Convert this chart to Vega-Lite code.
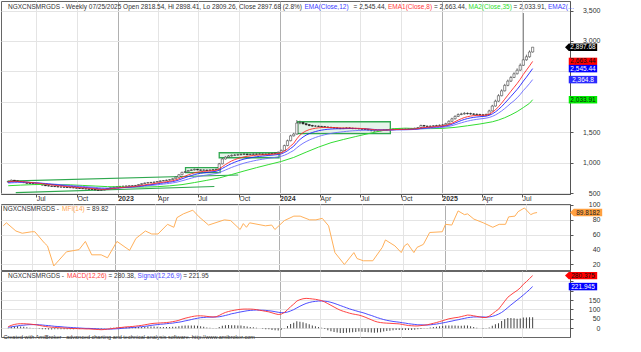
{
"$schema":"https://vega.github.io/schema/vega-lite/v6.json",
"background":"white",
"padding":0,
"spacing":-2,
"config":{"font":"Liberation Sans","view":{"stroke":"#666","strokeWidth":1},"axis":{"labelFont":"Liberation Sans","gridColor":"#e4e4e4","domainColor":"#555","tickColor":"#555","labelColor":"#333","title":null}},
"title":{"text":"Created with AmiBroker - advanced charting and technical analysis software. http://www.amibroker.com","orient":"bottom","anchor":"start","fontSize":5.5,"fontWeight":"normal","color":"#333","offset":-2.5,"dx":3,"font":"Liberation Sans"},
"datasets":{
"w":[
{"d":"2022-04-29","o":680,"h":700,"l":672,"c":690,"e8":686,"e12":677,"e20":663,"m":8,"s":5,"hs":3},
{"d":"2022-05-06","o":690,"h":722,"l":685,"c":710,"e8":691,"e12":682,"e20":667,"m":15,"s":7,"hs":8},
{"d":"2022-05-13","o":710,"h":715,"l":694,"c":700,"e8":693,"e12":685,"e20":670,"m":20,"s":10,"hs":10},
{"d":"2022-05-20","o":700,"h":706,"l":684,"c":690,"e8":692,"e12":686,"e20":672,"m":23,"s":12,"hs":11},
{"d":"2022-05-27","o":690,"h":695,"l":674,"c":680,"e8":689,"e12":685,"e20":673,"m":24,"s":15,"hs":9},
{"d":"2022-06-03","o":680,"h":686,"l":664,"c":670,"e8":685,"e12":683,"e20":673,"m":24,"s":16,"hs":8},
{"d":"2022-06-10","o":670,"h":676,"l":655,"c":660,"e8":679,"e12":679,"e20":672,"m":23,"s":18,"hs":5},
{"d":"2022-06-17","o":660,"h":665,"l":649,"c":655,"e8":674,"e12":675,"e20":670,"m":22,"s":19,"hs":3},
{"d":"2022-06-24","o":655,"h":660,"l":644,"c":650,"e8":669,"e12":671,"e20":668,"m":20,"s":19,"hs":1},
{"d":"2022-07-01","o":650,"h":656,"l":640,"c":645,"e8":664,"e12":667,"e20":666,"m":18,"s":19,"hs":-1},
{"d":"2022-07-08","o":645,"h":650,"l":634,"c":640,"e8":659,"e12":663,"e20":664,"m":15,"s":18,"hs":-3},
{"d":"2022-07-15","o":640,"h":645,"l":625,"c":630,"e8":653,"e12":658,"e20":661,"m":12,"s":17,"hs":-5},
{"d":"2022-07-22","o":630,"h":635,"l":615,"c":620,"e8":646,"e12":652,"e20":657,"m":9,"s":15,"hs":-6},
{"d":"2022-07-29","o":620,"h":626,"l":610,"c":615,"e8":639,"e12":646,"e20":653,"m":7,"s":14,"hs":-7},
{"d":"2022-08-05","o":615,"h":620,"l":604,"c":610,"e8":633,"e12":641,"e20":649,"m":5,"s":12,"hs":-7},
{"d":"2022-08-12","o":610,"h":615,"l":600,"c":605,"e8":627,"e12":635,"e20":645,"m":4,"s":10,"hs":-6},
{"d":"2022-08-19","o":605,"h":610,"l":594,"c":600,"e8":621,"e12":630,"e20":641,"m":3,"s":9,"hs":-6},
{"d":"2022-08-26","o":600,"h":606,"l":592,"c":598,"e8":616,"e12":625,"e20":637,"m":2,"s":8,"hs":-6},
{"d":"2022-09-02","o":598,"h":603,"l":590,"c":595,"e8":611,"e12":620,"e20":633,"m":1,"s":6,"hs":-5},
{"d":"2022-09-09","o":595,"h":600,"l":585,"c":590,"e8":606,"e12":615,"e20":629,"m":0,"s":5,"hs":-5},
{"d":"2022-09-16","o":590,"h":596,"l":582,"c":588,"e8":602,"e12":611,"e20":625,"m":-1,"s":4,"hs":-5},
{"d":"2022-09-23","o":588,"h":593,"l":580,"c":585,"e8":598,"e12":607,"e20":621,"m":-2,"s":3,"hs":-5},
{"d":"2022-09-30","o":585,"h":590,"l":575,"c":580,"e8":594,"e12":603,"e20":617,"m":-2,"s":2,"hs":-4},
{"d":"2022-10-07","o":580,"h":585,"l":570,"c":575,"e8":590,"e12":599,"e20":613,"m":-3,"s":1,"hs":-4},
{"d":"2022-10-14","o":575,"h":580,"l":565,"c":570,"e8":586,"e12":594,"e20":609,"m":-3,"s":0,"hs":-3},
{"d":"2022-10-21","o":570,"h":576,"l":561,"c":566,"e8":582,"e12":590,"e20":605,"m":-4,"s":-1,"hs":-3},
{"d":"2022-10-28","o":566,"h":571,"l":557,"c":562,"e8":578,"e12":586,"e20":601,"m":-4,"s":-1,"hs":-3},
{"d":"2022-11-04","o":562,"h":567,"l":553,"c":558,"e8":574,"e12":582,"e20":597,"m":-5,"s":-2,"hs":-3},
{"d":"2022-11-11","o":558,"h":563,"l":544,"c":550,"e8":569,"e12":577,"e20":593,"m":-6,"s":-3,"hs":-3},
{"d":"2022-11-18","o":550,"h":556,"l":538,"c":545,"e8":564,"e12":572,"e20":588,"m":-7,"s":-4,"hs":-3},
{"d":"2022-11-25","o":545,"h":555,"l":540,"c":548,"e8":560,"e12":568,"e20":584,"m":-8,"s":-5,"hs":-3},
{"d":"2022-12-02","o":548,"h":566,"l":544,"c":560,"e8":560,"e12":567,"e20":582,"m":-7,"s":-5,"hs":-2},
{"d":"2022-12-09","o":560,"h":581,"l":555,"c":575,"e8":563,"e12":568,"e20":581,"m":-5,"s":-5,"hs":0},
{"d":"2022-12-16","o":575,"h":596,"l":570,"c":590,"e8":569,"e12":571,"e20":582,"m":-3,"s":-5,"hs":2},
{"d":"2022-12-23","o":590,"h":607,"l":585,"c":600,"e8":576,"e12":576,"e20":584,"m":-1,"s":-4,"hs":3},
{"d":"2022-12-30","o":600,"h":612,"l":596,"c":605,"e8":582,"e12":580,"e20":586,"m":1,"s":-3,"hs":4},
{"d":"2023-01-06","o":605,"h":616,"l":600,"c":610,"e8":588,"e12":585,"e20":588,"m":3,"s":-2,"hs":5},
{"d":"2023-01-13","o":610,"h":618,"l":605,"c":612,"e8":593,"e12":589,"e20":590,"m":5,"s":0,"hs":5},
{"d":"2023-01-20","o":612,"h":620,"l":607,"c":615,"e8":598,"e12":593,"e20":592,"m":7,"s":1,"hs":6},
{"d":"2023-01-27","o":615,"h":624,"l":610,"c":618,"e8":602,"e12":597,"e20":595,"m":8,"s":2,"hs":6},
{"d":"2023-02-03","o":618,"h":626,"l":612,"c":620,"e8":606,"e12":601,"e20":597,"m":9,"s":4,"hs":5},
{"d":"2023-02-10","o":620,"h":632,"l":615,"c":625,"e8":610,"e12":605,"e20":600,"m":11,"s":5,"hs":6},
{"d":"2023-02-17","o":625,"h":646,"l":620,"c":640,"e8":617,"e12":610,"e20":604,"m":13,"s":7,"hs":6},
{"d":"2023-02-24","o":640,"h":662,"l":635,"c":655,"e8":625,"e12":617,"e20":609,"m":15,"s":8,"hs":7},
{"d":"2023-03-03","o":655,"h":672,"l":650,"c":665,"e8":634,"e12":624,"e20":614,"m":18,"s":10,"hs":8},
{"d":"2023-03-10","o":665,"h":678,"l":660,"c":670,"e8":642,"e12":631,"e20":619,"m":21,"s":12,"hs":9},
{"d":"2023-03-17","o":670,"h":682,"l":665,"c":675,"e8":649,"e12":638,"e20":624,"m":24,"s":15,"hs":9},
{"d":"2023-03-24","o":675,"h":688,"l":670,"c":680,"e8":656,"e12":644,"e20":629,"m":26,"s":17,"hs":9},
{"d":"2023-03-31","o":680,"h":697,"l":675,"c":690,"e8":664,"e12":651,"e20":635,"m":27,"s":19,"hs":8},
{"d":"2023-04-07","o":690,"h":708,"l":685,"c":700,"e8":672,"e12":659,"e20":641,"m":28,"s":21,"hs":7},
{"d":"2023-04-14","o":700,"h":712,"l":695,"c":705,"e8":679,"e12":666,"e20":647,"m":29,"s":22,"hs":7},
{"d":"2023-04-21","o":705,"h":720,"l":700,"c":712,"e8":686,"e12":673,"e20":653,"m":30,"s":24,"hs":6},
{"d":"2023-04-28","o":712,"h":728,"l":706,"c":720,"e8":694,"e12":680,"e20":659,"m":32,"s":26,"hs":6},
{"d":"2023-05-05","o":720,"h":742,"l":714,"c":735,"e8":703,"e12":688,"e20":666,"m":35,"s":27,"hs":8},
{"d":"2023-05-12","o":735,"h":768,"l":730,"c":760,"e8":716,"e12":699,"e20":675,"m":38,"s":30,"hs":8},
{"d":"2023-05-19","o":760,"h":810,"l":755,"c":800,"e8":735,"e12":715,"e20":687,"m":42,"s":32,"hs":10},
{"d":"2023-05-26","o":800,"h":850,"l":795,"c":840,"e8":758,"e12":734,"e20":701,"m":48,"s":35,"hs":13},
{"d":"2023-06-02","o":840,"h":862,"l":832,"c":850,"e8":778,"e12":752,"e20":715,"m":53,"s":39,"hs":14},
{"d":"2023-06-09","o":850,"h":880,"l":845,"c":870,"e8":798,"e12":770,"e20":730,"m":57,"s":42,"hs":15},
{"d":"2023-06-16","o":870,"h":892,"l":862,"c":880,"e8":816,"e12":787,"e20":744,"m":61,"s":46,"hs":15},
{"d":"2023-06-23","o":880,"h":902,"l":872,"c":890,"e8":832,"e12":803,"e20":758,"m":64,"s":50,"hs":14},
{"d":"2023-06-30","o":890,"h":898,"l":872,"c":880,"e8":843,"e12":815,"e20":770,"m":66,"s":53,"hs":13},
{"d":"2023-07-07","o":880,"h":888,"l":866,"c":875,"e8":850,"e12":824,"e20":780,"m":66,"s":56,"hs":10},
{"d":"2023-07-14","o":875,"h":888,"l":866,"c":878,"e8":856,"e12":832,"e20":789,"m":65,"s":57,"hs":8},
{"d":"2023-07-21","o":878,"h":885,"l":860,"c":870,"e8":859,"e12":838,"e20":797,"m":63,"s":59,"hs":4},
{"d":"2023-07-28","o":870,"h":890,"l":862,"c":880,"e8":864,"e12":845,"e20":805,"m":61,"s":59,"hs":2},
{"d":"2023-08-04","o":880,"h":895,"l":872,"c":885,"e8":869,"e12":851,"e20":813,"m":60,"s":59,"hs":1},
{"d":"2023-08-11","o":885,"h":900,"l":876,"c":890,"e8":874,"e12":857,"e20":820,"m":61,"s":60,"hs":1},
{"d":"2023-08-18","o":890,"h":995,"l":885,"c":980,"e8":897,"e12":876,"e20":835,"m":68,"s":61,"hs":7},
{"d":"2023-08-25","o":980,"h":1075,"l":972,"c":1060,"e8":933,"e12":904,"e20":856,"m":77,"s":64,"hs":13},
{"d":"2023-09-01","o":1060,"h":1105,"l":1050,"c":1090,"e8":968,"e12":933,"e20":878,"m":84,"s":68,"hs":16},
{"d":"2023-09-08","o":1090,"h":1125,"l":1080,"c":1110,"e8":1000,"e12":960,"e20":900,"m":89,"s":72,"hs":17},
{"d":"2023-09-15","o":1110,"h":1135,"l":1100,"c":1120,"e8":1027,"e12":985,"e20":921,"m":93,"s":77,"hs":16},
{"d":"2023-09-22","o":1120,"h":1140,"l":1110,"c":1125,"e8":1049,"e12":1007,"e20":940,"m":96,"s":80,"hs":16},
{"d":"2023-09-29","o":1125,"h":1145,"l":1115,"c":1130,"e8":1067,"e12":1026,"e20":958,"m":99,"s":84,"hs":15},
{"d":"2023-10-06","o":1130,"h":1150,"l":1120,"c":1135,"e8":1082,"e12":1043,"e20":975,"m":101,"s":87,"hs":14},
{"d":"2023-10-13","o":1135,"h":1155,"l":1125,"c":1140,"e8":1095,"e12":1058,"e20":991,"m":102,"s":90,"hs":12},
{"d":"2023-10-20","o":1140,"h":1150,"l":1120,"c":1130,"e8":1103,"e12":1069,"e20":1004,"m":102,"s":93,"hs":9},
{"d":"2023-10-27","o":1130,"h":1148,"l":1122,"c":1135,"e8":1110,"e12":1079,"e20":1016,"m":102,"s":95,"hs":7},
{"d":"2023-11-03","o":1135,"h":1152,"l":1126,"c":1140,"e8":1117,"e12":1088,"e20":1028,"m":101,"s":96,"hs":5},
{"d":"2023-11-10","o":1140,"h":1150,"l":1128,"c":1138,"e8":1122,"e12":1096,"e20":1038,"m":99,"s":97,"hs":3},
{"d":"2023-11-17","o":1138,"h":1154,"l":1128,"c":1142,"e8":1126,"e12":1103,"e20":1048,"m":96,"s":96,"hs":0},
{"d":"2023-11-24","o":1142,"h":1150,"l":1126,"c":1135,"e8":1128,"e12":1108,"e20":1056,"m":93,"s":96,"hs":-3},
{"d":"2023-12-01","o":1135,"h":1152,"l":1126,"c":1140,"e8":1131,"e12":1113,"e20":1064,"m":90,"s":95,"hs":-5},
{"d":"2023-12-08","o":1140,"h":1156,"l":1130,"c":1145,"e8":1134,"e12":1118,"e20":1072,"m":87,"s":93,"hs":-6},
{"d":"2023-12-15","o":1145,"h":1162,"l":1136,"c":1150,"e8":1138,"e12":1123,"e20":1079,"m":82,"s":91,"hs":-9},
{"d":"2023-12-22","o":1150,"h":1166,"l":1140,"c":1155,"e8":1142,"e12":1128,"e20":1086,"m":77,"s":88,"hs":-11},
{"d":"2023-12-29","o":1155,"h":1182,"l":1146,"c":1170,"e8":1148,"e12":1134,"e20":1094,"m":73,"s":85,"hs":-12},
{"d":"2024-01-05","o":1170,"h":1215,"l":1162,"c":1200,"e8":1160,"e12":1144,"e20":1104,"m":75,"s":83,"hs":-8},
{"d":"2024-01-12","o":1200,"h":1295,"l":1192,"c":1280,"e8":1187,"e12":1165,"e20":1121,"m":84,"s":83,"hs":1},
{"d":"2024-01-19","o":1280,"h":1378,"l":1270,"c":1360,"e8":1225,"e12":1195,"e20":1144,"m":98,"s":86,"hs":12},
{"d":"2024-01-26","o":1360,"h":1458,"l":1350,"c":1440,"e8":1273,"e12":1233,"e20":1172,"m":115,"s":92,"hs":23},
{"d":"2024-02-02","o":1440,"h":1490,"l":1430,"c":1470,"e8":1317,"e12":1270,"e20":1200,"m":128,"s":99,"hs":29},
{"d":"2024-02-09","o":1470,"h":1700,"l":1460,"c":1650,"e8":1391,"e12":1329,"e20":1243,"m":145,"s":108,"hs":37},
{"d":"2024-02-16","o":1650,"h":1690,"l":1630,"c":1660,"e8":1451,"e12":1380,"e20":1283,"m":152,"s":117,"hs":35},
{"d":"2024-02-23","o":1660,"h":1672,"l":1625,"c":1640,"e8":1493,"e12":1420,"e20":1317,"m":157,"s":125,"hs":32},
{"d":"2024-03-01","o":1640,"h":1650,"l":1610,"c":1625,"e8":1522,"e12":1452,"e20":1346,"m":159,"s":132,"hs":27},
{"d":"2024-03-08","o":1625,"h":1635,"l":1598,"c":1610,"e8":1542,"e12":1476,"e20":1371,"m":158,"s":137,"hs":21},
{"d":"2024-03-15","o":1610,"h":1622,"l":1590,"c":1600,"e8":1555,"e12":1495,"e20":1393,"m":156,"s":141,"hs":15},
{"d":"2024-03-22","o":1600,"h":1615,"l":1588,"c":1600,"e8":1565,"e12":1511,"e20":1413,"m":154,"s":143,"hs":11},
{"d":"2024-03-29","o":1600,"h":1610,"l":1585,"c":1595,"e8":1572,"e12":1524,"e20":1430,"m":151,"s":145,"hs":6},
{"d":"2024-04-05","o":1595,"h":1605,"l":1580,"c":1590,"e8":1576,"e12":1534,"e20":1445,"m":147,"s":145,"hs":2},
{"d":"2024-04-12","o":1590,"h":1600,"l":1575,"c":1585,"e8":1578,"e12":1542,"e20":1458,"m":140,"s":144,"hs":-4},
{"d":"2024-04-19","o":1585,"h":1595,"l":1570,"c":1580,"e8":1578,"e12":1548,"e20":1470,"m":131,"s":142,"hs":-11},
{"d":"2024-04-26","o":1580,"h":1590,"l":1565,"c":1575,"e8":1577,"e12":1552,"e20":1480,"m":122,"s":138,"hs":-16},
{"d":"2024-05-03","o":1575,"h":1585,"l":1560,"c":1570,"e8":1575,"e12":1555,"e20":1489,"m":113,"s":133,"hs":-20},
{"d":"2024-05-10","o":1570,"h":1580,"l":1556,"c":1565,"e8":1573,"e12":1557,"e20":1496,"m":104,"s":127,"hs":-23},
{"d":"2024-05-17","o":1565,"h":1575,"l":1550,"c":1560,"e8":1570,"e12":1557,"e20":1502,"m":96,"s":121,"hs":-25},
{"d":"2024-05-24","o":1560,"h":1576,"l":1552,"c":1565,"e8":1569,"e12":1558,"e20":1508,"m":90,"s":115,"hs":-25},
{"d":"2024-05-31","o":1565,"h":1582,"l":1556,"c":1570,"e8":1569,"e12":1560,"e20":1514,"m":85,"s":109,"hs":-24},
{"d":"2024-06-07","o":1570,"h":1580,"l":1555,"c":1565,"e8":1568,"e12":1561,"e20":1519,"m":80,"s":103,"hs":-23},
{"d":"2024-06-14","o":1565,"h":1575,"l":1550,"c":1560,"e8":1566,"e12":1561,"e20":1523,"m":76,"s":98,"hs":-22},
{"d":"2024-06-21","o":1560,"h":1572,"l":1550,"c":1560,"e8":1565,"e12":1561,"e20":1526,"m":73,"s":93,"hs":-20},
{"d":"2024-06-28","o":1560,"h":1570,"l":1545,"c":1555,"e8":1563,"e12":1560,"e20":1529,"m":70,"s":88,"hs":-18},
{"d":"2024-07-05","o":1555,"h":1565,"l":1540,"c":1550,"e8":1560,"e12":1558,"e20":1531,"m":65,"s":84,"hs":-19},
{"d":"2024-07-12","o":1550,"h":1560,"l":1535,"c":1545,"e8":1557,"e12":1556,"e20":1532,"m":59,"s":79,"hs":-20},
{"d":"2024-07-19","o":1545,"h":1555,"l":1525,"c":1535,"e8":1552,"e12":1553,"e20":1532,"m":52,"s":73,"hs":-21},
{"d":"2024-07-26","o":1535,"h":1545,"l":1515,"c":1525,"e8":1546,"e12":1549,"e20":1531,"m":45,"s":68,"hs":-23},
{"d":"2024-08-02","o":1525,"h":1535,"l":1510,"c":1520,"e8":1540,"e12":1545,"e20":1530,"m":38,"s":62,"hs":-24},
{"d":"2024-08-09","o":1520,"h":1535,"l":1510,"c":1525,"e8":1537,"e12":1542,"e20":1530,"m":33,"s":56,"hs":-23},
{"d":"2024-08-16","o":1525,"h":1540,"l":1515,"c":1530,"e8":1535,"e12":1540,"e20":1530,"m":30,"s":51,"hs":-21},
{"d":"2024-08-23","o":1530,"h":1545,"l":1520,"c":1535,"e8":1535,"e12":1539,"e20":1530,"m":28,"s":46,"hs":-18},
{"d":"2024-08-30","o":1535,"h":1550,"l":1525,"c":1540,"e8":1536,"e12":1539,"e20":1531,"m":27,"s":42,"hs":-15},
{"d":"2024-09-06","o":1540,"h":1555,"l":1530,"c":1545,"e8":1538,"e12":1540,"e20":1532,"m":26,"s":39,"hs":-13},
{"d":"2024-09-13","o":1545,"h":1560,"l":1535,"c":1550,"e8":1541,"e12":1542,"e20":1534,"m":25,"s":36,"hs":-11},
{"d":"2024-09-20","o":1550,"h":1565,"l":1540,"c":1555,"e8":1544,"e12":1544,"e20":1536,"m":24,"s":34,"hs":-10},
{"d":"2024-09-27","o":1555,"h":1565,"l":1540,"c":1550,"e8":1545,"e12":1545,"e20":1537,"m":23,"s":32,"hs":-9},
{"d":"2024-10-04","o":1550,"h":1560,"l":1538,"c":1548,"e8":1546,"e12":1545,"e20":1538,"m":20,"s":29,"hs":-9},
{"d":"2024-10-11","o":1548,"h":1562,"l":1540,"c":1552,"e8":1547,"e12":1546,"e20":1539,"m":17,"s":27,"hs":-10},
{"d":"2024-10-18","o":1552,"h":1565,"l":1542,"c":1555,"e8":1549,"e12":1547,"e20":1541,"m":14,"s":24,"hs":-10},
{"d":"2024-10-25","o":1555,"h":1570,"l":1545,"c":1560,"e8":1551,"e12":1549,"e20":1543,"m":13,"s":22,"hs":-9},
{"d":"2024-11-01","o":1560,"h":1575,"l":1550,"c":1565,"e8":1554,"e12":1551,"e20":1545,"m":12,"s":20,"hs":-8},
{"d":"2024-11-08","o":1565,"h":1586,"l":1555,"c":1575,"e8":1559,"e12":1555,"e20":1548,"m":12,"s":18,"hs":-6},
{"d":"2024-11-15","o":1575,"h":1625,"l":1568,"c":1610,"e8":1570,"e12":1563,"e20":1554,"m":14,"s":18,"hs":-4},
{"d":"2024-11-22","o":1610,"h":1620,"l":1590,"c":1600,"e8":1577,"e12":1569,"e20":1558,"m":16,"s":17,"hs":-1},
{"d":"2024-11-29","o":1600,"h":1610,"l":1585,"c":1595,"e8":1581,"e12":1573,"e20":1561,"m":18,"s":17,"hs":1},
{"d":"2024-12-06","o":1595,"h":1612,"l":1585,"c":1600,"e8":1585,"e12":1577,"e20":1565,"m":22,"s":18,"hs":4},
{"d":"2024-12-13","o":1600,"h":1616,"l":1590,"c":1605,"e8":1589,"e12":1581,"e20":1569,"m":26,"s":20,"hs":6},
{"d":"2024-12-20","o":1605,"h":1622,"l":1595,"c":1610,"e8":1594,"e12":1586,"e20":1573,"m":30,"s":22,"hs":8},
{"d":"2024-12-27","o":1610,"h":1628,"l":1600,"c":1615,"e8":1599,"e12":1590,"e20":1577,"m":35,"s":25,"hs":11},
{"d":"2025-01-03","o":1615,"h":1635,"l":1605,"c":1620,"e8":1604,"e12":1595,"e20":1581,"m":40,"s":28,"hs":12},
{"d":"2025-01-10","o":1620,"h":1655,"l":1610,"c":1640,"e8":1612,"e12":1602,"e20":1587,"m":45,"s":31,"hs":14},
{"d":"2025-01-17","o":1640,"h":1695,"l":1632,"c":1680,"e8":1627,"e12":1614,"e20":1596,"m":50,"s":35,"hs":15},
{"d":"2025-01-24","o":1680,"h":1738,"l":1672,"c":1720,"e8":1648,"e12":1631,"e20":1608,"m":53,"s":38,"hs":15},
{"d":"2025-01-31","o":1720,"h":1778,"l":1710,"c":1760,"e8":1673,"e12":1651,"e20":1623,"m":56,"s":42,"hs":14},
{"d":"2025-02-07","o":1760,"h":1810,"l":1750,"c":1790,"e8":1699,"e12":1672,"e20":1639,"m":58,"s":45,"hs":13},
{"d":"2025-02-14","o":1790,"h":1820,"l":1780,"c":1800,"e8":1721,"e12":1692,"e20":1654,"m":62,"s":49,"hs":13},
{"d":"2025-02-21","o":1800,"h":1830,"l":1790,"c":1810,"e8":1741,"e12":1710,"e20":1669,"m":66,"s":52,"hs":14},
{"d":"2025-02-28","o":1810,"h":1825,"l":1790,"c":1805,"e8":1755,"e12":1724,"e20":1682,"m":70,"s":56,"hs":14},
{"d":"2025-03-07","o":1805,"h":1822,"l":1786,"c":1800,"e8":1765,"e12":1735,"e20":1693,"m":69,"s":58,"hs":11},
{"d":"2025-03-14","o":1800,"h":1815,"l":1780,"c":1795,"e8":1772,"e12":1744,"e20":1703,"m":66,"s":60,"hs":6},
{"d":"2025-03-21","o":1795,"h":1810,"l":1775,"c":1790,"e8":1776,"e12":1750,"e20":1711,"m":63,"s":60,"hs":3},
{"d":"2025-03-28","o":1790,"h":1805,"l":1770,"c":1785,"e8":1778,"e12":1755,"e20":1718,"m":60,"s":60,"hs":0},
{"d":"2025-04-04","o":1785,"h":1800,"l":1765,"c":1780,"e8":1778,"e12":1759,"e20":1724,"m":57,"s":60,"hs":-3},
{"d":"2025-04-11","o":1780,"h":1808,"l":1765,"c":1790,"e8":1781,"e12":1764,"e20":1731,"m":57,"s":59,"hs":-2},
{"d":"2025-04-18","o":1790,"h":1870,"l":1785,"c":1850,"e8":1796,"e12":1777,"e20":1742,"m":64,"s":60,"hs":4},
{"d":"2025-04-25","o":1850,"h":1950,"l":1840,"c":1930,"e8":1826,"e12":1801,"e20":1760,"m":76,"s":63,"hs":13},
{"d":"2025-05-02","o":1930,"h":2035,"l":1920,"c":2010,"e8":1867,"e12":1833,"e20":1784,"m":89,"s":68,"hs":21},
{"d":"2025-05-09","o":2010,"h":2125,"l":2000,"c":2100,"e8":1919,"e12":1874,"e20":1815,"m":101,"s":75,"hs":26},
{"d":"2025-05-16","o":2100,"h":2205,"l":2090,"c":2180,"e8":1977,"e12":1921,"e20":1849,"m":122,"s":84,"hs":38},
{"d":"2025-05-23","o":2180,"h":2295,"l":2170,"c":2270,"e8":2042,"e12":1975,"e20":1889,"m":144,"s":96,"hs":48},
{"d":"2025-05-30","o":2270,"h":2365,"l":2255,"c":2340,"e8":2108,"e12":2031,"e20":1932,"m":165,"s":110,"hs":55},
{"d":"2025-06-06","o":2340,"h":2425,"l":2325,"c":2400,"e8":2173,"e12":2088,"e20":1977,"m":178,"s":124,"hs":54},
{"d":"2025-06-13","o":2400,"h":2485,"l":2390,"c":2460,"e8":2237,"e12":2145,"e20":2017,"m":190,"s":137,"hs":53},
{"d":"2025-06-20","o":2460,"h":2550,"l":2450,"c":2520,"e8":2300,"e12":2203,"e20":2065,"m":201,"s":150,"hs":51},
{"d":"2025-06-27","o":2520,"h":2630,"l":2510,"c":2600,"e8":2370,"e12":2268,"e20":2120,"m":215,"s":163,"hs":52},
{"d":"2025-07-04","o":2600,"h":3460,"l":2590,"c":2690,"e8":2450,"e12":2340,"e20":2185,"m":234,"s":177,"hs":57},
{"d":"2025-07-11","o":2690,"h":2775,"l":2675,"c":2740,"e8":2520,"e12":2405,"e20":2240,"m":248,"s":191,"hs":57},
{"d":"2025-07-18","o":2740,"h":2845,"l":2725,"c":2818.7,"e8":2590,"e12":2475,"e20":2300,"m":265,"s":206,"hs":59},
{"d":"2025-07-25","o":2818.54,"h":2898.41,"l":2809.26,"c":2897.68,"e8":2663.44,"e12":2545.44,"e20":2364.8,"m":280.38,"s":221.95,"hs":58.43}
],
"ma":[
{"d":"2022-04-29","v":620},{"d":"2022-05-27","v":630},{"d":"2022-06-24","v":638},{"d":"2022-07-22","v":642},{"d":"2022-08-19","v":640},{"d":"2022-09-16","v":635},{"d":"2022-10-14","v":625},{"d":"2022-11-11","v":615},{"d":"2022-12-09","v":605},{"d":"2023-01-06","v":600},{"d":"2023-02-03","v":598},{"d":"2023-03-03","v":598},{"d":"2023-03-31","v":604},{"d":"2023-04-28","v":618},{"d":"2023-05-26","v":638},{"d":"2023-06-23","v":672},{"d":"2023-07-21","v":709},{"d":"2023-08-18","v":748},{"d":"2023-09-15","v":804},{"d":"2023-10-13","v":862},{"d":"2023-11-10","v":917},{"d":"2023-12-08","v":969},{"d":"2024-01-05","v":1019},{"d":"2024-02-02","v":1085},{"d":"2024-03-01","v":1172},{"d":"2024-03-29","v":1255},{"d":"2024-04-26","v":1327},{"d":"2024-05-24","v":1380},{"d":"2024-06-21","v":1429},{"d":"2024-07-19","v":1476},{"d":"2024-08-16","v":1520},{"d":"2024-09-13","v":1557},{"d":"2024-10-11","v":1567},{"d":"2024-11-08","v":1559},{"d":"2024-12-06","v":1559},{"d":"2025-01-03","v":1563},{"d":"2025-01-31","v":1579},{"d":"2025-02-28","v":1606},{"d":"2025-03-28","v":1635},{"d":"2025-04-25","v":1671},{"d":"2025-05-09","v":1700},{"d":"2025-05-23","v":1738},{"d":"2025-06-06","v":1785},{"d":"2025-06-20","v":1839},{"d":"2025-07-04","v":1905},{"d":"2025-07-18","v":1975},{"d":"2025-07-25","v":2033.91}
],
"mfi":[
{"d":"2022-04-29","v":72},{"d":"2022-05-06","v":76},{"d":"2022-05-27","v":65},{"d":"2022-06-10","v":62},{"d":"2022-07-01","v":64},{"d":"2022-07-08","v":64},{"d":"2022-07-29","v":49},{"d":"2022-08-05","v":45},{"d":"2022-08-19","v":18},{"d":"2022-09-16","v":37},{"d":"2022-10-14","v":40},{"d":"2022-10-28","v":51},{"d":"2022-11-11","v":33},{"d":"2022-12-02","v":33},{"d":"2022-12-16","v":29},{"d":"2023-01-06","v":51},{"d":"2023-02-03","v":39},{"d":"2023-02-17","v":55},{"d":"2023-03-10","v":65},{"d":"2023-03-24","v":61},{"d":"2023-04-07","v":61},{"d":"2023-04-28","v":74},{"d":"2023-05-12","v":70},{"d":"2023-05-19","v":83},{"d":"2023-06-02","v":88},{"d":"2023-06-23","v":93},{"d":"2023-07-07","v":84},{"d":"2023-07-28","v":73},{"d":"2023-09-01","v":80},{"d":"2023-09-15","v":79},{"d":"2023-10-06","v":67},{"d":"2023-10-13","v":75},{"d":"2023-10-20","v":70},{"d":"2023-10-27","v":76},{"d":"2023-12-01","v":72},{"d":"2023-12-15","v":73},{"d":"2023-12-22","v":67},{"d":"2024-01-12","v":79},{"d":"2024-02-02","v":85},{"d":"2024-02-16","v":85},{"d":"2024-03-08","v":80},{"d":"2024-03-22","v":80},{"d":"2024-04-05","v":82},{"d":"2024-04-19","v":72},{"d":"2024-05-03","v":36},{"d":"2024-05-24","v":20},{"d":"2024-06-14","v":36},{"d":"2024-06-21","v":28},{"d":"2024-07-05","v":25},{"d":"2024-07-26","v":25},{"d":"2024-08-16","v":43},{"d":"2024-08-23","v":53},{"d":"2024-09-13","v":45},{"d":"2024-09-27","v":36},{"d":"2024-10-04","v":45},{"d":"2024-10-11","v":48},{"d":"2024-10-25","v":36},{"d":"2024-11-01","v":43},{"d":"2024-11-15","v":47},{"d":"2024-11-29","v":63},{"d":"2024-12-27","v":64},{"d":"2025-01-03","v":74},{"d":"2025-01-17","v":73},{"d":"2025-01-31","v":92},{"d":"2025-02-14","v":87},{"d":"2025-02-21","v":88},{"d":"2025-03-07","v":81},{"d":"2025-03-28","v":76},{"d":"2025-04-18","v":70},{"d":"2025-05-02","v":74},{"d":"2025-05-16","v":74},{"d":"2025-05-23","v":84},{"d":"2025-06-06","v":85},{"d":"2025-06-13","v":91},{"d":"2025-06-27","v":96},{"d":"2025-07-11","v":87},{"d":"2025-07-18","v":89},{"d":"2025-07-25","v":89.82}
],
"boxes":[
{"a":"2023-06-03","b":"2023-08-20","lo":834,"hi":916},
{"a":"2023-08-18","b":"2023-12-31","lo":1080,"hi":1162},
{"a":"2024-02-11","b":"2024-09-07","lo":1475,"hi":1672}
],
"tl":[
{"a":"2022-04-28","p1":697,"b":"2023-09-30","p2":796},
{"a":"2022-05-16","p1":505,"b":"2023-08-07","p2":607}
],
"plab":[
{"s":"Close","v":2897.68,"t":"2,897.68"},
{"s":"EMA1","v":2663.44,"t":"2,663.44"},
{"s":"EMA","v":2545.44,"t":"2,545.44"},
{"s":"EMA2","v":2364.8,"t":"2,364.8"},
{"s":"MA2","v":2033.91,"t":"2,033.91"}
],
"mlab":[{"s":"MFI","v":89.8182,"t":"89.8182"}],
"clab":[{"s":"MACD","v":280.375,"t":"280.375"},{"s":"Signal","v":221.945,"t":"221.945"}]
},
"vconcat":[
{
"width":569,"height":193,
"resolve":{"scale":{"color":"independent","shape":"independent"}},
"layer":[
{"data":{"name":"boxes"},"mark":{"type":"rect","fill":"#2fa84f","fillOpacity":0.12,"stroke":"#2fa84f","strokeWidth":1.3},
 "encoding":{
  "x":{"field":"a","type":"temporal","scale":{"type":"utc","domain":[{"year":2022,"month":4,"date":24,"utc":true},{"year":2025,"month":10,"date":6,"utc":true}]},
   "axis":{"orient":"bottom","tickCount":30,"values":[{"year":2022,"month":7,"date":1,"utc":true},{"year":2022,"month":10,"date":1,"utc":true},{"year":2023,"month":1,"date":1,"utc":true},{"year":2023,"month":4,"date":1,"utc":true},{"year":2023,"month":7,"date":1,"utc":true},{"year":2023,"month":10,"date":1,"utc":true},{"year":2024,"month":1,"date":1,"utc":true},{"year":2024,"month":4,"date":1,"utc":true},{"year":2024,"month":7,"date":1,"utc":true},{"year":2024,"month":10,"date":1,"utc":true},{"year":2025,"month":1,"date":1,"utc":true},{"year":2025,"month":4,"date":1,"utc":true},{"year":2025,"month":7,"date":1,"utc":true}],
    "grid":true,"gridColor":{"condition":{"test":"utcmonth(datum.value) == 0","value":"#b0b0b0"},"value":"#e4e4e4"},
    "labelExpr":"utcmonth(datum.value) == 0 ? utcFormat(datum.value, '%Y') : utcFormat(datum.value, '%b')",
    "labelFontWeight":{"condition":{"test":"utcmonth(datum.value) == 0","value":"bold"},"value":"normal"},
    "labelAlign":"left","labelBaseline":"top","labelPadding":-3,"labelDx":1.5,"tickSize":3,"labelFontSize":7,"labelFlush":false,"labelOverlap":false}},
  "x2":{"field":"b"},
  "y":{"field":"lo","type":"quantitative","scale":{"domain":[484,3657],"nice":false,"zero":false},
   "axis":{"orient":"right","tickCount":30,"values":[500,1000,1500,2000,2500,3000,3500],"labelExpr":"datum.value == 2000 || datum.value == 2500 ? '' : format(datum.value, ',')","grid":true,"tickSize":3,"labelPadding":27,"labelAlign":"right","labelBaseline":"middle","labelFontSize":7,"labelOverlap":false,"labelFlush":false}},
  "y2":{"field":"hi"}}},
{"data":{"name":"tl"},"mark":{"type":"rule","color":"#2fa84f","strokeWidth":1.2},
 "encoding":{"x":{"field":"a","type":"temporal"},"x2":{"field":"b"},"y":{"field":"p1","type":"quantitative"},"y2":{"field":"p2"}}},
{"data":{"name":"w"},"mark":{"type":"rule","color":"#555","strokeWidth":0.8},
 "encoding":{"x":{"field":"d","type":"temporal"},"y":{"field":"l","type":"quantitative"},"y2":{"field":"h"}}},
{"data":{"name":"w"},"mark":{"type":"bar","width":2.2,"stroke":"#222","strokeWidth":0.5},
 "encoding":{"x":{"field":"d","type":"temporal"},"y":{"field":"o","type":"quantitative"},"y2":{"field":"c"},
  "fill":{"condition":{"test":"datum.c < datum.o","value":"#000000"},"value":"#ffffff"}}},
{"data":{"name":"ma"},"mark":{"type":"line","color":"#33dd33","strokeWidth":1},
 "encoding":{"x":{"field":"d","type":"temporal"},"y":{"field":"v","type":"quantitative"}}},
{"data":{"name":"w"},"mark":{"type":"line","color":"#6a6aff","strokeWidth":0.9},
 "encoding":{"x":{"field":"d","type":"temporal"},"y":{"field":"e20","type":"quantitative"}}},
{"data":{"name":"w"},"mark":{"type":"line","color":"#2020ff","strokeWidth":0.9},
 "encoding":{"x":{"field":"d","type":"temporal"},"y":{"field":"e12","type":"quantitative"}}},
{"data":{"name":"w"},"mark":{"type":"line","color":"#ff2a2a","strokeWidth":0.9},
 "encoding":{"x":{"field":"d","type":"temporal"},"y":{"field":"e8","type":"quantitative"}}},
{"data":{"name":"plab"},"mark":{"type":"point","filled":true,"opacity":1,"size":56,"strokeWidth":0},
 "encoding":{"x":{"datum":{"year":2025,"month":10,"date":6,"utc":true},"type":"temporal"},"y":{"field":"v","type":"quantitative"},
  "color":{"field":"s","type":"nominal","scale":{"domain":["Close","EMA1","EMA","EMA2","MA2"],"range":["#000000","#ff0000","#0000ff","#2a2aff","#00ee00"]},"legend":null},
  "shape":{"field":"s","type":"nominal","scale":{"domain":["Close","EMA1","EMA","EMA2","MA2"],"range":["M0,0L1,-1L8.6,-1L8.6,1L1,1Z","M1,-1L8.6,-1L8.6,1L1,1Z","M1,-1L8.6,-1L8.6,1L1,1Z","M1,-1L8.6,-1L8.6,1L1,1Z","M1,-1L8.6,-1L8.6,1L1,1Z"]},"legend":null}}},
{"data":{"name":"plab"},"mark":{"type":"text","dx":18,"align":"center","baseline":"middle","fontSize":6.5},
 "encoding":{"x":{"datum":{"year":2025,"month":10,"date":6,"utc":true},"type":"temporal"},"y":{"field":"v","type":"quantitative"},"text":{"field":"t"},
  "color":{"field":"s","type":"nominal","scale":{"domain":["Close","EMA1","EMA","EMA2","MA2"],"range":["#ffffff","#111111","#ffffff","#ffffff","#111111"]},"legend":null}}},
{"data":{"values":[{}]},"mark":{"type":"text","text":"NGXCNSMRGDS - Weekly 07/25/2025 Open 2818.54, Hi 2898.41, Lo 2809.26, Close 2897.68 (2.8%)","align":"left","baseline":"middle","dx":2,"dy":5.7,"fontSize":6.5,"color":"#333333"},
 "encoding":{"x":{"datum":{"year":2022,"month":4,"date":24,"utc":true},"type":"temporal"},"y":{"datum":3657,"type":"quantitative"}}},
{"data":{"values":[{}]},"mark":{"type":"text","text":"EMA(Close,12)","align":"left","baseline":"middle","dx":298.5,"dy":5.7,"fontSize":6.5,"color":"#3d3dff"},
 "encoding":{"x":{"datum":{"year":2022,"month":4,"date":24,"utc":true},"type":"temporal"},"y":{"datum":3657,"type":"quantitative"}}},
{"data":{"values":[{}]},"mark":{"type":"text","text":"= 2,545.44,","align":"left","baseline":"middle","dx":347.6,"dy":5.7,"fontSize":6.5,"color":"#333333"},
 "encoding":{"x":{"datum":{"year":2022,"month":4,"date":24,"utc":true},"type":"temporal"},"y":{"datum":3657,"type":"quantitative"}}},
{"data":{"values":[{}]},"mark":{"type":"text","text":"EMA1(Close,8)","align":"left","baseline":"middle","dx":382,"dy":5.7,"fontSize":6.5,"color":"#ff3b3b"},
 "encoding":{"x":{"datum":{"year":2022,"month":4,"date":24,"utc":true},"type":"temporal"},"y":{"datum":3657,"type":"quantitative"}}},
{"data":{"values":[{}]},"mark":{"type":"text","text":"= 2,663.44,","align":"left","baseline":"middle","dx":428,"dy":5.7,"fontSize":6.5,"color":"#333333"},
 "encoding":{"x":{"datum":{"year":2022,"month":4,"date":24,"utc":true},"type":"temporal"},"y":{"datum":3657,"type":"quantitative"}}},
{"data":{"values":[{}]},"mark":{"type":"text","text":"MA2(Close,35)","align":"left","baseline":"middle","dx":462.5,"dy":5.7,"fontSize":6.5,"color":"#2ddc2d"},
 "encoding":{"x":{"datum":{"year":2022,"month":4,"date":24,"utc":true},"type":"temporal"},"y":{"datum":3657,"type":"quantitative"}}},
{"data":{"values":[{}]},"mark":{"type":"text","text":"= 2,033.91,","align":"left","baseline":"middle","dx":507.6,"dy":5.7,"fontSize":6.5,"color":"#333333"},
 "encoding":{"x":{"datum":{"year":2022,"month":4,"date":24,"utc":true},"type":"temporal"},"y":{"datum":3657,"type":"quantitative"}}},
{"data":{"values":[{}]},"mark":{"type":"text","text":"EMA2(Close,20) = 2,364.80","align":"left","baseline":"middle","dx":542,"dy":5.7,"fontSize":6.5,"color":"#3d3dff","limit":27,"ellipsis":""},
 "encoding":{"x":{"datum":{"year":2022,"month":4,"date":24,"utc":true},"type":"temporal"},"y":{"datum":3657,"type":"quantitative"}}}
]
},
{
"width":569,"height":66,
"layer":[
{"data":{"name":"mfi"},"mark":{"type":"line","color":"#ffb05a","strokeWidth":1},
 "encoding":{
  "x":{"field":"d","type":"temporal","scale":{"type":"utc","domain":[{"year":2022,"month":4,"date":24,"utc":true},{"year":2025,"month":10,"date":6,"utc":true}]},
   "axis":{"tickCount":30,"values":[{"year":2022,"month":7,"date":1,"utc":true},{"year":2022,"month":10,"date":1,"utc":true},{"year":2023,"month":1,"date":1,"utc":true},{"year":2023,"month":4,"date":1,"utc":true},{"year":2023,"month":7,"date":1,"utc":true},{"year":2023,"month":10,"date":1,"utc":true},{"year":2024,"month":1,"date":1,"utc":true},{"year":2024,"month":4,"date":1,"utc":true},{"year":2024,"month":7,"date":1,"utc":true},{"year":2024,"month":10,"date":1,"utc":true},{"year":2025,"month":1,"date":1,"utc":true},{"year":2025,"month":4,"date":1,"utc":true},{"year":2025,"month":7,"date":1,"utc":true}],
    "grid":true,"gridColor":{"condition":{"test":"utcmonth(datum.value) == 0","value":"#b0b0b0"},"value":"#e4e4e4"},"labels":false,"ticks":false,"domain":false}},
  "y":{"field":"v","type":"quantitative","scale":{"domain":[12.6,101.3],"nice":false,"zero":false},
   "axis":{"orient":"right","tickCount":30,"values":[20,40,60,80,100],"grid":true,"tickSize":3,"labelPadding":27,"labelAlign":"right","labelBaseline":"middle","labelFontSize":7,"labelOverlap":false,"labelFlush":false}}}},
{"data":{"name":"mlab"},"mark":{"type":"point","filled":true,"opacity":1,"size":56,"strokeWidth":0,"color":"#ffa040","shape":"M0,0L1,-1L8.6,-1L8.6,1L1,1Z"},
 "encoding":{"x":{"datum":{"year":2025,"month":10,"date":6,"utc":true},"type":"temporal"},"y":{"field":"v","type":"quantitative"}}},
{"data":{"name":"mlab"},"mark":{"type":"text","dx":18,"align":"center","baseline":"middle","fontSize":6.5,"color":"#222222"},
 "encoding":{"x":{"datum":{"year":2025,"month":10,"date":6,"utc":true},"type":"temporal"},"y":{"field":"v","type":"quantitative"},"text":{"field":"t"}}},
{"data":{"values":[{}]},"mark":{"type":"text","text":"NGXCNSMRGDS -","align":"left","baseline":"middle","dx":2,"dy":4.5,"fontSize":6.5,"color":"#333333"},
 "encoding":{"x":{"datum":{"year":2022,"month":4,"date":24,"utc":true},"type":"temporal"},"y":{"datum":101.3,"type":"quantitative"}}},
{"data":{"values":[{}]},"mark":{"type":"text","text":"MFI(14)","align":"left","baseline":"middle","dx":61,"dy":4.5,"fontSize":6.5,"color":"#ffa64d"},
 "encoding":{"x":{"datum":{"year":2022,"month":4,"date":24,"utc":true},"type":"temporal"},"y":{"datum":101.3,"type":"quantitative"}}},
{"data":{"values":[{}]},"mark":{"type":"text","text":"= 89.82","align":"left","baseline":"middle","dx":85.5,"dy":4.5,"fontSize":6.5,"color":"#333333"},
 "encoding":{"x":{"datum":{"year":2022,"month":4,"date":24,"utc":true},"type":"temporal"},"y":{"datum":101.3,"type":"quantitative"}}}
]
},
{
"width":569,"height":66,
"resolve":{"scale":{"color":"independent","shape":"independent"}},
"layer":[
{"data":{"name":"w"},"mark":{"type":"bar","width":1,"color":"#444444"},
 "encoding":{
  "x":{"field":"d","type":"temporal","scale":{"type":"utc","domain":[{"year":2022,"month":4,"date":24,"utc":true},{"year":2025,"month":10,"date":6,"utc":true}]},
   "axis":{"tickCount":30,"values":[{"year":2022,"month":7,"date":1,"utc":true},{"year":2022,"month":10,"date":1,"utc":true},{"year":2023,"month":1,"date":1,"utc":true},{"year":2023,"month":4,"date":1,"utc":true},{"year":2023,"month":7,"date":1,"utc":true},{"year":2023,"month":10,"date":1,"utc":true},{"year":2024,"month":1,"date":1,"utc":true},{"year":2024,"month":4,"date":1,"utc":true},{"year":2024,"month":7,"date":1,"utc":true},{"year":2024,"month":10,"date":1,"utc":true},{"year":2025,"month":1,"date":1,"utc":true},{"year":2025,"month":4,"date":1,"utc":true},{"year":2025,"month":7,"date":1,"utc":true}],
    "grid":true,"gridColor":{"condition":{"test":"utcmonth(datum.value) == 0","value":"#b0b0b0"},"value":"#e4e4e4"},"labels":false,"ticks":false,"domain":false}},
  "y":{"field":"hs","type":"quantitative","scale":{"domain":[-47,305],"nice":false,"zero":false},
   "axis":{"orient":"right","tickCount":30,"values":[0,50,100,150,200,250],"labelExpr":"datum.value == 250 || datum.value == 200 ? '' : datum.label","grid":true,"tickSize":3,"labelPadding":27,"labelAlign":"right","labelBaseline":"middle","labelFontSize":7,"labelOverlap":false,"labelFlush":false}},
  "y2":{"datum":0}}},
{"data":{"name":"w"},"mark":{"type":"line","color":"#3a3aff","strokeWidth":0.9},
 "encoding":{"x":{"field":"d","type":"temporal"},"y":{"field":"s","type":"quantitative"}}},
{"data":{"name":"w"},"mark":{"type":"line","color":"#ff3030","strokeWidth":0.9},
 "encoding":{"x":{"field":"d","type":"temporal"},"y":{"field":"m","type":"quantitative"}}},
{"data":{"name":"clab"},"mark":{"type":"point","filled":true,"opacity":1,"size":56,"strokeWidth":0},
 "encoding":{"x":{"datum":{"year":2025,"month":10,"date":6,"utc":true},"type":"temporal"},"y":{"field":"v","type":"quantitative"},
  "color":{"field":"s","type":"nominal","scale":{"domain":["MACD","Signal"],"range":["#ff0000","#0000ff"]},"legend":null},
  "shape":{"field":"s","type":"nominal","scale":{"domain":["MACD","Signal"],"range":["M0,0L1,-1L8.6,-1L8.6,1L1,1Z","M1,-1L8.6,-1L8.6,1L1,1Z"]},"legend":null}}},
{"data":{"name":"clab"},"mark":{"type":"text","dx":18,"align":"center","baseline":"middle","fontSize":6.5},
 "encoding":{"x":{"datum":{"year":2025,"month":10,"date":6,"utc":true},"type":"temporal"},"y":{"field":"v","type":"quantitative"},"text":{"field":"t"},
  "color":{"field":"s","type":"nominal","scale":{"domain":["MACD","Signal"],"range":["#111111","#ffffff"]},"legend":null}}},
{"data":{"values":[{}]},"mark":{"type":"text","text":"NGXCNSMRGDS -","align":"left","baseline":"middle","dx":2,"dy":4.5,"fontSize":6.5,"color":"#333333"},
 "encoding":{"x":{"datum":{"year":2022,"month":4,"date":24,"utc":true},"type":"temporal"},"y":{"datum":305,"type":"quantitative"}}},
{"data":{"values":[{}]},"mark":{"type":"text","text":"MACD(12,26)","align":"left","baseline":"middle","dx":61,"dy":4.5,"fontSize":6.5,"color":"#ff4040"},
 "encoding":{"x":{"datum":{"year":2022,"month":4,"date":24,"utc":true},"type":"temporal"},"y":{"datum":305,"type":"quantitative"}}},
{"data":{"values":[{}]},"mark":{"type":"text","text":"= 280.38,","align":"left","baseline":"middle","dx":102.5,"dy":4.5,"fontSize":6.5,"color":"#333333"},
 "encoding":{"x":{"datum":{"year":2022,"month":4,"date":24,"utc":true},"type":"temporal"},"y":{"datum":305,"type":"quantitative"}}},
{"data":{"values":[{}]},"mark":{"type":"text","text":"Signal(12,26,9)","align":"left","baseline":"middle","dx":131.6,"dy":4.5,"fontSize":6.5,"color":"#4b4bff"},
 "encoding":{"x":{"datum":{"year":2022,"month":4,"date":24,"utc":true},"type":"temporal"},"y":{"datum":305,"type":"quantitative"}}},
{"data":{"values":[{}]},"mark":{"type":"text","text":"= 221.95","align":"left","baseline":"middle","dx":177.2,"dy":4.5,"fontSize":6.5,"color":"#333333"},
 "encoding":{"x":{"datum":{"year":2022,"month":4,"date":24,"utc":true},"type":"temporal"},"y":{"datum":305,"type":"quantitative"}}}
]
}
]
}
